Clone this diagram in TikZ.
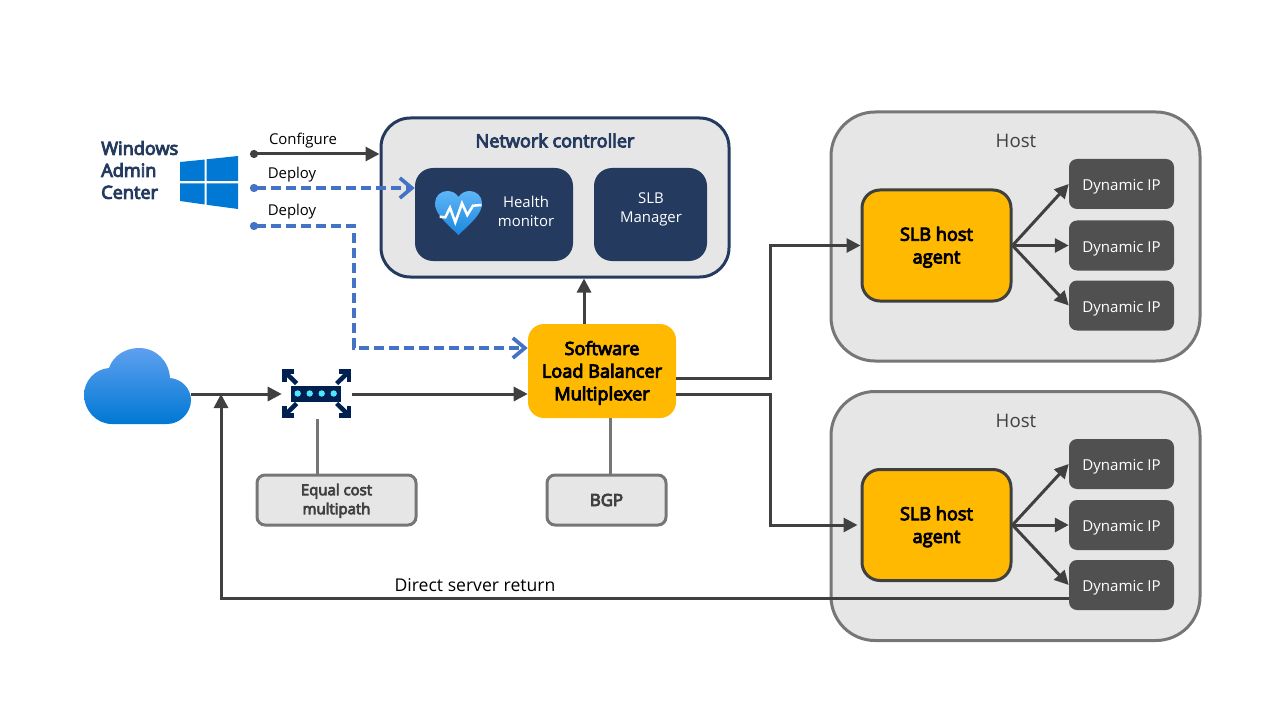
\documentclass[tikz,border=0pt]{standalone}
\usepackage{xcolor}
\usepackage{fontspec}
\usepackage{tikz}
\usetikzlibrary{arrows.meta}
\setmainfont{Open Sans}
\newfontfamily\semibold[FakeBold=5]{Open Sans}
\definecolor{navyblue}{HTML}{243A5E}
\definecolor{panelgray}{HTML}{E6E6E6}
\definecolor{edgegray}{HTML}{767676}
\definecolor{linedark}{HTML}{404040}
\definecolor{ipgray}{HTML}{505050}
\definecolor{slbyellow}{HTML}{FFB900}
\definecolor{deployblue}{HTML}{4472C4}
\definecolor{winblue}{HTML}{0078D4}
\definecolor{cloudtop}{HTML}{5EA0EF}
\definecolor{hearttop}{HTML}{5EB5F8}
\definecolor{heartlow}{HTML}{1B88DC}
\definecolor{switchnavy}{HTML}{002050}
\definecolor{switchdot}{HTML}{50E6FF}

\begin{document}
\begin{tikzpicture}[x=0.75pt,y=-0.75pt,
  panel/.style={rectangle,draw=edgegray,fill=panelgray,line width=2.25pt,
    rounded corners=33pt,minimum width=276.75pt,minimum height=186.75pt},
  ctrl/.style={rectangle,draw=navyblue,fill=panelgray,line width=2.25pt,
    rounded corners=22pt,minimum width=261pt,minimum height=119.25pt},
  darkbox/.style={rectangle,fill=navyblue,rounded corners=13.5pt,
    minimum height=69.75pt},
  slb/.style={rectangle,fill=slbyellow,rounded corners=12pt,align=center,text depth=0.5pt,
    font=\fontsize{13.6}{17}\semibold,text=black},
  agent/.style={slb,draw=linedark,line width=2.25pt,rounded corners=13.5pt,
    minimum width=111.75pt,minimum height=83.25pt},
  dip/.style={rectangle,fill=ipgray,rounded corners=6pt,text=white,text height=13pt,
    minimum width=78.75pt,minimum height=37.5pt,
    font=\fontsize{11.3}{13}\selectfont},
  tag/.style={rectangle,draw=edgegray,fill=panelgray,line width=2.25pt,
    rounded corners=6pt,minimum height=37.5pt,align=center,text=linedark},
  lbl/.style={inner sep=0pt,align=center,font=\fontsize{11.2}{14.4}\selectfont},
  icon/.style={inner sep=0pt},
  arr/.style={-{Triangle[length=10.5pt,width=10.5pt]},line width=2.25pt,draw=linedark},
  dotarr/.style={{Circle[length=6pt]}-{Triangle[length=10.5pt,width=10.5pt]},
    line width=2.25pt,draw=linedark},
  dep/.style={{Circle[length=6pt]}-{Straight Barb[length=9pt,width=15pt,line width=2.8pt]},
    line width=2.8pt,draw=deployblue,dash pattern=on 7.5pt off 3.75pt},
  stub/.style={line width=2.25pt,draw=edgegray}]

  \useasboundingbox (0,0) rectangle (1280,720);

  \node[ctrl] (nc) at (555,197.5) {};
  \node[lbl,text=navyblue,font=\fontsize{13.6}{16}\semibold] (nctitle) at (555,140.5) {Network controller};
  \node[darkbox,minimum width=118.5pt] (health) at (494,214.5) {};
  \node[darkbox,minimum width=84.75pt] (slbmgr) at (650.5,214.5) {};
  \node[lbl,text=white] (healthtext) at (526,211.5) {Health\\monitor};
  \node[lbl,text=white] (slbtext) at (651,209.5) {SLB\\Manager};

  \node[panel] (host1) at (1015.5,236.5) {};
  \node[panel] (host2) at (1015.5,516) {};
  \node[lbl,text=linedark,font=\fontsize{14}{16}\selectfont] (host1text) at (1016,141) {Host};
  \node[lbl,text=linedark,font=\fontsize{14}{16}\selectfont] (host2text) at (1016,421) {Host};

  \node[agent] (agent1) at (936.5,245.5) {SLB host\\agent};
  \node[agent] (agent2) at (936.5,525) {SLB host\\agent};
  \node[dip] (dip1) at (1121.5,184) {Dynamic IP};
  \node[dip] (dip2) at (1121.5,245.5) {Dynamic IP};
  \node[dip] (dip3) at (1121.5,305.5) {Dynamic IP};
  \node[dip] (dip4) at (1121.5,464) {Dynamic IP};
  \node[dip] (dip5) at (1121.5,525) {Dynamic IP};
  \node[dip] (dip6) at (1121.5,585) {Dynamic IP};

  \node[slb,minimum width=111pt,minimum height=70.5pt] (mux) at (602,371) {Software\\Load Balancer\\Multiplexer};
  \node[tag,minimum width=119.25pt,text depth=1.5pt,font=\fontsize{11.2}{14.2}\semibold] (ecmp) at (336.5,500) {Equal cost\\multipath};
  \node[tag,minimum width=89.25pt,font=\fontsize{12.6}{14}\semibold] (bgp) at (606.5,500) {BGP};

  \node[icon,minimum width=80.25pt,minimum height=45pt] (cloud) at (137.5,394) {};
  \node[icon,minimum width=52.5pt,minimum height=36.75pt] (switch) at (317,394) {};

  \node[lbl,anchor=west,align=left,text=navyblue,font=\fontsize{13.6}{16.5}\semibold] (wac) at (101,170) {Windows\\Admin\\Center};
  \node[lbl] (configtext) at (303,140.5) {Configure};
  \node[lbl] (deploytext1) at (292,175) {Deploy};
  \node[lbl] (deploytext2) at (292,212) {Deploy};
  \node[lbl,font=\fontsize{13.2}{15}\selectfont] (dsrtext) at (475,585.5) {Direct server return};

  \coordinate (configstart) at (250,154);
  \coordinate (deploystart1) at (250,188);
  \coordinate (deploystart2) at (250,226);
  \coordinate (deploybend) at (354,226);
  \coordinate (topbend) at (770,378);
  \coordinate (lowbend) at (770,394.5);
  \coordinate (dsrend) at (221,394);

  % Windows logo
  \fill[winblue] (180,162) -- (204.5,159.6) -- (204.5,181) -- (180,181) -- cycle;
  \fill[winblue] (206.5,159.3) -- (238,156) -- (238,181) -- (206.5,181) -- cycle;
  \fill[winblue] (180,183.5) -- (204.5,183.5) -- (204.5,204.5) -- (180,201) -- cycle;
  \fill[winblue] (206.5,183.5) -- (238,183.5) -- (238,209) -- (206.5,204.8) -- cycle;

  % cloud
  \path[shade,top color=cloudtop,bottom color=winblue] (112,424) .. controls (96,424) and (84,410) .. (84,395)
    .. controls (84,381) and (95,369) .. (109,368) .. controls (113,356) and (125,348) .. (139,348)
    .. controls (156,348) and (169,361) .. (170,378) .. controls (182,379) and (191,389) .. (191,400)
    .. controls (191,413) and (180,424) .. (167,424) -- cycle;

  % heart
  \path[shade,top color=hearttop,bottom color=heartlow] (458.5,235) .. controls (445,222) and (435,214) .. (435,203)
    .. controls (435,196) and (441,191) .. (447,191) .. controls (452,191) and (456,193) .. (458.5,197)
    .. controls (461,193) and (465,191) .. (470,191) .. controls (476,191) and (482,196) .. (482,203)
    .. controls (482,214) and (472,222) .. (458.5,235) -- cycle;
  \draw[white,line width=1.9pt] (439.7,216.7) -- (445.3,217.3) -- (450,207.7) -- (455.3,222.3) -- (462,203.3)
    -- (467.3,215) -- (473,205.7) -- (481.5,205);

  % switch
  \fill[switchnavy] (290.7,385.5) rectangle (340.7,401.5);
  \foreach \dotx in {297.7,309.7,321.7,333.7}
    \fill[switchdot] (\dotx,393.5) circle (3.2);
  \begin{scope}[shift={(316.7,393.5)}]
    \foreach \sx/\sy in {1/1,1/-1,-1/1,-1/-1} {
      \draw[switchnavy,line width=3.2pt] ({\sx*22.3},{\sy*22}) -- ({\sx*32.3},{\sy*22}) -- ({\sx*32.3},{\sy*12});
      \draw[switchnavy,line width=3.4pt] ({\sx*32.3},{\sy*22}) -- ({\sx*20},{\sy*10});
    }
  \end{scope}

  \draw[dotarr] (configstart) -- (nc.west |- configstart);
  \draw[dep] (deploystart1) -- (health.west |- deploystart1);
  \draw[dep] (deploystart2) -- (deploybend) |- ([yshift=17.25pt]mux.west);

  \draw[arr] ([xshift=-13.5pt]mux.north) -- ([xshift=-13.5pt]mux.north |- nc.south);
  \draw[arr] (cloud.east) -- (switch.west);
  \draw[arr] (switch.east) -- (switch.east -| mux.west);
  \draw[stub] (switch.south) -- (switch.south |- ecmp.north);
  \draw[stub] ([xshift=6pt]mux.south) -- ([xshift=6pt]mux.south |- bgp.north);

  \draw[arr] (topbend -| mux.east) -- (topbend) |- (agent1.west);
  \draw[arr] (lowbend -| mux.east) -- (lowbend) |- ([xshift=-2.25pt]agent2.west);

  \draw[arr] (agent1.east) -- (dip1.west);
  \draw[arr] (agent1.east) -- (dip2.west);
  \draw[arr] (agent1.east) -- (dip3.west);
  \draw[arr] (agent2.east) -- (dip4.west);
  \draw[arr] (agent2.east) -- (dip5.west);
  \draw[arr] (agent2.east) -- (dip6.west);

  \draw[arr] ([yshift=-9.75pt]dip6.west) -| (dsrend);
\end{tikzpicture}
\end{document}
